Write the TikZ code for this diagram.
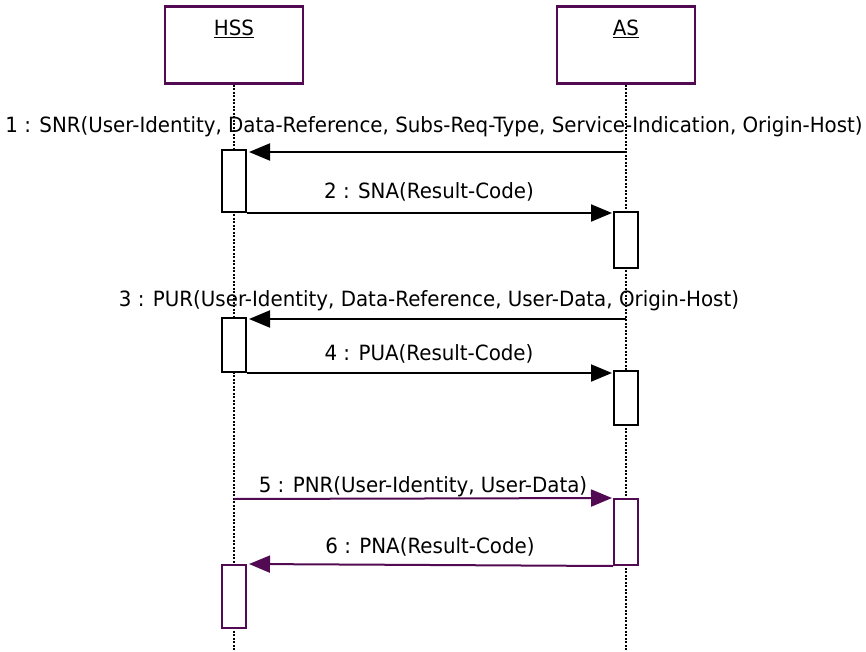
\documentclass[tikz,border=0pt]{standalone}
\usepackage{fontspec}
\setmainfont[FakeStretch=0.945]{DejaVu Sans}
\usetikzlibrary{arrows.meta}
\definecolor{umlpurple}{RGB}{82,10,82}
\begin{document}
\begin{tikzpicture}[x=1bp,y=-1bp,
  every node/.style={font=\fontsize{21bp}{24bp}\selectfont, inner sep=0pt},
  hdr/.style={draw=umlpurple, line width=2.4bp, fill=white, minimum width=138bp, minimum height=77bp},
  life/.style={line width=2bp, dash pattern=on 2bp off 1.5bp},
  act/.style={draw, line width=2bp, fill=white, minimum width=24bp},
  msg/.style={line width=2bp, -{Triangle[length=21bp,width=17bp]}},
  lbl/.style={anchor=base}
]
\useasboundingbox (0,0) rectangle (866,652);
% headers
\node[hdr] (hss) at (234,45) {};
\node[hdr] (as) at (626,45) {};
\node[anchor=base] (hsst) at (234,36) {\underline{HSS}};
\node[anchor=base] (ast) at (626,36) {\underline{AS}};
% lifelines
\coordinate (hssend) at (234,652);
\coordinate (asend) at (626,652);
\draw[life] (hss.south) -- (hssend);
\draw[life] (as.south) -- (asend);
% activation boxes
\node[act, minimum height=62bp] (h1) at (234,181) {};
\node[act, minimum height=56bp] (a1) at (626,240) {};
\node[act, minimum height=54bp] (h2) at (234,345) {};
\node[act, minimum height=54bp] (a2) at (626,398) {};
\node[act, draw=umlpurple, minimum height=66bp] (a3) at (626,532) {};
\node[act, draw=umlpurple, minimum height=63bp] (h3) at (234,596.5) {};
% messages
\coordinate (m1) at (626,152);
\draw[msg] (m1) -- ([xshift=2bp]h1.east |- m1);
\draw[msg] (h1.south east) -- ([xshift=-1bp]a1.west |- h1.south east);
\coordinate (m3) at (626,319);
\draw[msg] (m3) -- ([xshift=2bp]h2.east |- m3);
\draw[msg] (h2.south east) -- ([xshift=-1bp]a2.west |- h2.south east);
\coordinate (m5) at (234,499);
\draw[msg, umlpurple] (m5) -- ([xshift=-1bp]a3.north west);
\draw[msg, umlpurple] (a3.south west) -- ([xshift=2bp]h3.north east);
% labels
\node[lbl] (l1) at (434,133) {1 : SNR(User-Identity, Data-Reference, Subs-Req-Type, Service-Indication, Origin-Host)};
\node[lbl] (l2) at (429,198) {2 : SNA(Result-Code)};
\node[lbl] (l3) at (429,306) {3 : PUR(User-Identity, Data-Reference, User-Data, Origin-Host)};
\node[lbl] (l4) at (429,360) {4 : PUA(Result-Code)};
\node[lbl] (l5) at (423,492) {5 : PNR(User-Identity, User-Data)};
\node[lbl] (l6) at (430,553) {6 : PNA(Result-Code)};
\end{tikzpicture}
\end{document}
